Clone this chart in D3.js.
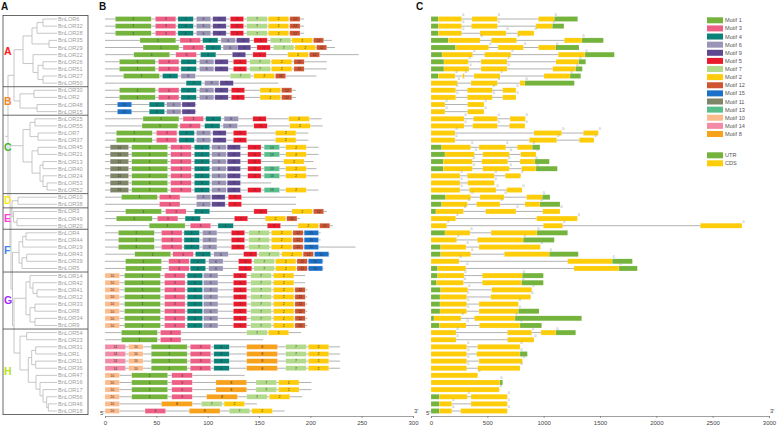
<!DOCTYPE html>
<html><head><meta charset="utf-8">
<script src="https://cdn.jsdelivr.net/npm/d3@7"></script>
<style>
body{margin:0;background:#fff}
svg{display:block}
text{font-family:"Liberation Sans",Arial,sans-serif}
</style>
</head><body>
<svg id="chart" width="779" height="429"></svg>
<script>
// ---------------- DATA ----------------
const geneNames = ["BnLOR6","BnLOR32","BnLOR28","BnLOR35","BnLOR29","BnLOR22","BnLOR26","BnLOR51","BnLOR27","BnLOR50",
"BnLOR30","BnLOR2","BnLOR48","BnLOR15",
"BnLOR25","BnLOR55","BnLOR7","BnLOR37","BnLOR45","BnLOR21","BnLOR13","BnLOR40","BnLOR24","BnLOR53","BnLOR52",
"BnLOR10","BnLOR38","BnLOR3","BnLOR49","BnLOR20",
"BnLOR4","BnLOR44","BnLOR19","BnLOR43","BnLOR39","BnLOR5",
"BnLOR14","BnLOR42","BnLOR41","BnLOR12","BnLOR33","BnLOR8","BnLOR34","BnLOR9",
"BnLOR54","BnLOR23","BnLOR31","BnLOR1","BnLOR11","BnLOR36","BnLOR47","BnLOR16","BnLOR17","BnLOR56","BnLOR46","BnLOR18"];

const groupNames  = ["A","B","C","D","E","F","G","H"];
const groupSizes  = [10,4,11,2,3,6,8,12];
const groupColors = ["#ff1a1a","#f0841e","#3fb52f","#ffe81a","#ff3ad6","#3b86ea","#a02cff","#b5e21c"];
const groupLabelRow = [4.5,11.5,18,25.5,28,32.5,39.5,49.5];

// phylogeny (Newick, branch lengths)
const newick = "((((((BnLOR6:14,BnLOR32:14):6,BnLOR28:20):5,(BnLOR35:8,BnLOR29:8):17):9,(BnLOR22:24,((BnLOR26:14,BnLOR51:14):5,(BnLOR27:14,BnLOR50:14):5):5):10):9,((BnLOR30:23,BnLOR2:23):14,(BnLOR48:20,BnLOR15:20):17):6):6,((((BnLOR25:22,BnLOR55:22):5,(BnLOR7:19,BnLOR37:19):8):7,((BnLOR45:19,BnLOR21:19):6,((BnLOR13:14,BnLOR40:14):3,(BnLOR24:14,(BnLOR53:10,BnLOR52:10):4):3):8):9):13,(((BnLOR10:39,BnLOR38:39):6,(BnLOR3:43.5,(BnLOR49:40,BnLOR20:40):3.5):1.5):1,((((BnLOR4:31,BnLOR44:31):3.3,BnLOR19:34.3):3.7,((BnLOR43:30.3,BnLOR39:30.3):4.7,BnLOR5:35):3):6.5,(((BnLOR14:27,(BnLOR42:24,(BnLOR41:20,BnLOR12:20):4):3):4,((BnLOR33:22,BnLOR8:22):5,(BnLOR34:22,BnLOR9:22):5):4):12,((BnLOR54:30.3,BnLOR23:30.3):6.7,(((BnLOR31:21.3,BnLOR1:21.3):4,(BnLOR11:21.3,BnLOR36:21.3):4):3.4,(BnLOR47:21,(BnLOR16:17,(BnLOR17:14,(BnLOR56:10.3,(BnLOR46:8.7,BnLOR18:8.7):1.6):3.7):3):4):7.7):8.3):6):1.5):1.5):1):2);";

// motifs
const legendMotifs = [1,3,4,6,9,5,7,2,12,15,11,13,10,14,8];
const motifColors = {1:"#74b33c",2:"#fecc0a",3:"#ee5f86",4:"#0b8277",5:"#ea1a2d",6:"#9a94b5",7:"#b2da8b",8:"#f8a11b",
  9:"#5e488f",10:"#fdbb8b",11:"#7f8567",12:"#cf5532",13:"#58be8b",14:"#f38ba6",15:"#1b70c8"};
const motifWidth = {1:35,2:20,3:20,4:15,5:13,6:14,7:20,8:30,9:13,10:14,11:18,12:10,13:15,14:20,15:14};

const proteinLength = [194,194,194,221,224,247,216,216,206,169,
 186,186,89,89,211,212,198,198,208,208,
 203,206,208,162,208,186,186,216,190,222,
 210,210,244,219,213,213,195,195,197,197,
 197,197,197,197,191,154,229,229,229,229,
 136,201,201,192,148,175];

const mA  = [[1,10],[3,49],[4,71],[6,89],[9,105],[5,122],[7,138],[2,159],[12,180]];
const mA2 = [[1,14],[3,52],[4,74],[6,92],[9,107],[5,125],[7,141],[2,162],[12,184]];
const mB  = [[1,14],[3,52],[4,74],[6,92],[9,107],[5,123],[2,151],[12,172]];
const mB2 = [[15,12],[4,43],[6,60],[9,75]];
const mC7 = [[1,11],[3,50],[4,72],[6,89],[9,105],[5,125],[2,166]];
const mC  = [[11,5],[1,26],[3,64],[4,87],[6,104],[9,119],[5,139],[13,155],[2,176]];
const mF  = [[1,13],[3,55],[4,77],[6,95],[5,123],[7,140],[2,162],[12,183],[15,194]];
const mF2 = [[1,20],[3,62],[4,83],[6,101],[5,130],[7,145],[2,166],[12,187],[15,198]];
const mG  = [[10,0],[1,19],[3,58],[4,80],[6,96],[5,125],[7,142],[2,164]];
const mG2 = [[10,0],[1,19],[3,58],[4,80],[6,96],[5,125],[7,142],[2,164],[12,185]];
const mH  = [[14,0],[10,23],[1,45],[3,83],[4,106],[8,138],[7,176],[2,198]];
const mH2 = [[10,0],[1,26],[3,65],[8,108],[7,147],[2,169]];

const motifLayout = [
 mA, mA, mA,
 [[1,34],[3,73],[4,95],[6,113],[9,128],[5,145],[7,161],[2,182],[12,203]],
 [[1,37],[3,76],[4,98],[6,115],[9,129],[5,148],[7,164],[2,185],[12,206]],
 [[1,28],[3,69],[4,93],[9,124],[5,144],[2,178],[12,199]],
 mA2, mA2,
 [[1,18],[4,56],[6,74],[7,122],[2,145],[12,166]],
 [[4,79],[6,97],[9,112]],
 mB, mB, mB2, mB2,
 [[1,37],[3,76],[4,98],[6,116],[5,144],[2,179]],
 [[1,36],[3,73],[4,97],[6,115],[5,145],[2,180]],
 mC7, mC7,
 mC, mC,
 [[11,5],[1,26],[3,64],[4,87],[6,104],[9,119],[5,139],[2,174]],
 mC, mC,
 [[11,5],[1,26],[3,64],[4,87],[6,104],[9,119]],
 mC,
 [[1,16],[3,53],[6,89],[9,104],[5,120]],
 [[3,53],[6,89],[9,104],[5,120]],
 [[1,20],[3,59],[4,87],[5,145],[2,182],[12,203]],
 [[1,11],[3,51],[4,78],[5,126],[2,156],[12,177]],
 [[1,43],[3,83],[4,110],[5,158],[2,188],[12,209]],
 mF, mF, mF,
 [[1,29],[3,66],[4,88],[6,106],[5,135],[7,150],[2,172],[12,193],[15,204]],
 mF2, mF2,
 mG, mG, mG2, mG2, mG2, mG2, mG2, mG2,
 [[1,16],[3,54],[7,138],[2,159]],
 [[1,16],[3,54]],
 mH, mH, mH, mH,
 [[10,0],[1,26],[3,65]],
 mH2, mH2,
 [[10,0],[1,26],[3,65],[8,99],[7,138],[2,160]],
 [[10,0],[8,55],[7,94],[2,116]],
 [[10,0],[3,39],[8,82],[7,121],[2,143]]
];

// gene structures: [type, start, end] (U = UTR, C = CDS), bp
const geneStructure = [
 [["U",0,65],["C",65,272],["C",364,589],["C",953,1095],["U",1095,1302]],
 [["U",0,65],["C",65,272],["C",358,589],["C",932,1077],["U",1077,1180]],
 [["U",0,65],["C",65,272],["C",435,666],["C",769,914]],
 [["U",0,154],["C",154,435],["C",535,760],["C",1183,1340],["U",1340,1530]],
 [["U",0,219],["C",219,512],["C",595,820],["C",953,1107],["U",1107,1314]],
 [["U",0,98],["C",98,370],["C",476,710],["C",1130,1367],["U",1367,1627]],
 [["U",0,115],["C",115,331],["C",444,675],["C",1109,1311],["U",1311,1373]],
 [["U",0,115],["C",115,337],["C",444,675],["C",1080,1284],["U",1284,1343]],
 [["U",0,65],["C",65,213],["C",281,296],["C",382,612],["C",1003,1234],["U",1234,1329]],
 [["C",0,234],["C",355,589],["C",790,834],["U",834,1272]],
 [["C",0,219],["C",322,544],["C",636,754]],
 [["C",0,219],["C",322,544],["C",636,754]],
 [["C",0,124],["C",325,470]],
 [["C",0,124],["C",325,470]],
 [["C",0,293],["C",376,589],["C",701,837]],
 [["C",0,293],["C",370,589],["C",695,834]],
 [["C",0,213],["C",914,1160],["C",1352,1485]],
 [["C",0,213],["C",873,1116],["C",1316,1447]],
 [["U",0,95],["C",95,352],["C",426,663],["C",766,899],["U",899,967]],
 [["U",0,124],["C",124,385],["C",459,695],["C",796,932]],
 [["U",0,109],["C",109,367],["C",450,681],["C",790,923],["U",923,1050]],
 [["U",0,109],["C",109,367],["C",459,695],["C",805,932],["U",932,1121]],
 [["C",0,257],["C",322,562],["C",659,796]],
 [["C",0,257],["C",325,562]],
 [["C",0,257],["C",340,577],["C",672,808]],
 [["U",0,130],["C",130,352],["C",435,648],["C",849,988],["U",988,1056]],
 [["U",0,95],["C",95,322],["C",405,612],["C",834,967],["U",967,1145]],
 [["U",0,44],["C",44,287],["C",485,754],["C",991,1145]],
 [["C",0,219],["C",938,1299]],
 [["C",0,139],["C",997,1169],["C",2390,2760]],
 [["U",0,124],["C",124,346],["C",533,941],["U",941,1213]],
 [["C",0,228],["C",411,819],["U",819,1094]],
 [["U",0,86],["C",86,311],["C",426,970]],
 [["U",0,86],["C",86,352],["C",651,1050],["U",1050,1307]],
 [["C",0,249],["C",1213,1609],["U",1609,1787]],
 [["U",0,59],["C",59,308],["C",1269,1669],["U",1669,1831]],
 [["U",0,59],["C",59,293],["C",455,810],["U",810,997]],
 [["U",0,50],["C",50,287],["C",455,805],["U",805,997]],
 [["U",0,86],["C",86,326],["C",538,894]],
 [["U",0,80],["C",80,317],["C",530,885]],
 [["U",0,80],["C",80,317],["C",426,775]],
 [["U",0,80],["C",80,317],["C",426,775],["U",775,959]],
 [["U",0,27],["C",27,266],["C",385,746],["U",746,1337]],
 [["U",0,74],["C",74,311],["C",429,790],["U",790,982]],
 [["C",0,222],["C",678,893],["C",976,1109],["U",1109,1284]],
 [["C",0,222],["C",678,914]],
 [["C",0,317],["C",414,790]],
 [["C",0,317],["C",405,790],["U",790,855]],
 [["C",0,317],["C",426,811]],
 [["C",0,317],["C",414,790]],
 [["C",0,414]],
 [["C",0,612],["U",612,636]],
 [["C",0,606]],
 [["U",0,74],["C",74,322],["C",355,677]],
 [["U",0,74],["C",74,184],["C",355,677]],
 [["U",0,74],["C",74,184],["C",264,677]]
];

const structColors = {U:"#74b33c", C:"#fecd0a"};
const axisBTicks = [0,50,100,150,200,250,300];
const axisCTicks = [0,500,1000,1500,2000,2500,3000];

// ---------------- DRAW ----------------
const svg = d3.select("#chart");
const n = geneNames.length;
const yRow = d3.scaleLinear().domain([0, n-1]).range([19, 411]);
const rowOf = {}; geneNames.forEach((g,i)=>rowOf[g]=i);

// titles
[["A",1],["B",99],["C",416]].forEach(([t,x])=>{
  svg.append("text").attr("x",x).attr("y",10).text(t)
    .attr("font-size",10).attr("font-weight","bold").attr("fill","#111");
});

// --- Panel A: tree ---
function parseNewick(s){
  let i=0;
  function node(){
    const nd={children:[]};
    if(s[i]==="("){
      i++;
      nd.children.push(node());
      while(s[i]===","){ i++; nd.children.push(node()); }
      i++; // )
    }
    let name=""; while(i<s.length && !":,();".includes(s[i])) name+=s[i++];
    nd.name=name;
    if(s[i]===":"){ i++; let v=""; while(i<s.length && !",();".includes(s[i])) v+=s[i++]; nd.len=+v; }
    else nd.len=0;
    return nd;
  }
  return node();
}
const root = d3.hierarchy(parseNewick(newick), d=>d.children.length?d.children:null);
root.each(d=>{ d.dist = (d.parent?d.parent.dist:0) + (d.parent?d.data.len:0); });
const xTree = d3.scaleLinear().domain([0,49]).range([8,57]);
root.eachAfter(d=>{
  if(!d.children){ d.yy = yRow(rowOf[d.data.name]); d.xx = xTree(49); }
  else { d.yy = (d.children[0].yy + d.children[d.children.length-1].yy)/2; d.xx = xTree(d.dist); }
});
const gTree = svg.append("g").attr("stroke","#b9b9b9").attr("stroke-width",0.8).attr("fill","none");
root.each(d=>{
  if(d.children){
    gTree.append("line").attr("x1",d.xx).attr("x2",d.xx)
      .attr("y1",d.children[0].yy).attr("y2",d.children[d.children.length-1].yy);
    d.children.forEach(c=>{
      gTree.append("line").attr("x1",d.xx).attr("x2",c.xx).attr("y1",c.yy).attr("y2",c.yy);
    });
  }
});
if(root.children){ gTree.append("line").attr("x1",root.xx-3).attr("x2",root.xx).attr("y1",root.yy).attr("y2",root.yy); }

// leaf labels
svg.append("g").selectAll("text").data(geneNames).join("text")
  .attr("x",58).attr("y",(d,i)=>yRow(i)+2).text(d=>d)
  .attr("font-size",5.6).attr("fill","#a0a0a0");

// group boxes
const boxTop = yRow(0)-3.6, boxBot = yRow(n-1)+3.6;
svg.append("rect").attr("x",3).attr("y",boxTop).attr("width",85).attr("height",boxBot-boxTop)
  .attr("fill","none").attr("stroke","#444").attr("stroke-width",0.8);
let acc=0;
groupSizes.forEach((s,gi)=>{
  if(gi>0){
    const yb=(yRow(acc-1)+yRow(acc))/2;
    svg.append("line").attr("x1",3).attr("x2",88).attr("y1",yb).attr("y2",yb)
      .attr("stroke","#444").attr("stroke-width",0.8);
  }
  acc+=s;
});
svg.append("g").selectAll("text").data(groupNames).join("text")
  .attr("x",4).attr("y",(d,i)=>yRow(groupLabelRow[i])+3.6).text(d=>d)
  .attr("font-size",10.5).attr("font-weight","bold").attr("fill",(d,i)=>groupColors[i]);

// --- Panel B: motifs ---
const xB = d3.scaleLinear().domain([0,300]).range([105,413]);
const gB = svg.append("g");
proteinLength.forEach((L,i)=>{
  gB.append("line").attr("x1",xB(0)).attr("x2",xB(L)).attr("y1",yRow(i)).attr("y2",yRow(i))
    .attr("stroke","#a9a9a9").attr("stroke-width",0.9);
});
motifLayout.forEach((row,i)=>{
  row.forEach(([m,s])=>{
    const x0=xB(s), x1=xB(s+motifWidth[m]);
    gB.append("rect").attr("x",x0).attr("y",yRow(i)-2.5).attr("width",x1-x0).attr("height",5)
      .attr("fill",motifColors[m]).attr("stroke","#ffffff").attr("stroke-opacity",0.55).attr("stroke-width",0.5);
    gB.append("text").attr("x",(x0+x1)/2).attr("y",yRow(i)+1.3).attr("text-anchor","middle")
      .attr("font-size",3.4).attr("fill","#333").text(m);
  });
});
const axB = svg.append("g").attr("transform","translate(0,416)")
  .call(d3.axisBottom(xB).tickValues(axisBTicks).tickSize(2).tickFormat(d3.format("d")));
axB.select(".domain").attr("stroke","#777").attr("stroke-width",0.7);
axB.selectAll(".tick line").attr("stroke","#777").attr("stroke-width",0.7);
axB.selectAll("text").attr("font-size",6).attr("fill","#444").attr("dy","0.6em")
  .attr("font-family","Liberation Sans, Arial, sans-serif");
svg.append("text").attr("x",xB(0)-5).attr("y",415).text("5'").attr("font-size",6).attr("fill","#444");
svg.append("text").attr("x",xB(300)+1).attr("y",413).text("3'").attr("font-size",6).attr("fill","#444");

// --- Panel C: gene structures ---
const xC = d3.scaleLinear().domain([0,3000]).range([431,769]);
const gC = svg.append("g");
geneStructure.forEach((segs,i)=>{
  const end = d3.max(segs,s=>s[2]);
  gC.append("line").attr("x1",xC(0)).attr("x2",xC(end)).attr("y1",yRow(i)).attr("y2",yRow(i))
    .attr("stroke","#a9a9a9").attr("stroke-width",0.9);
  segs.forEach(([t,s,e],k)=>{
    gC.append("rect").attr("x",xC(s)).attr("y",yRow(i)-2.5).attr("width",xC(e)-xC(s)).attr("height",5)
      .attr("fill",structColors[t]).attr("stroke","#ffffff").attr("stroke-opacity",0.4).attr("stroke-width",0.4);
  });
  segs.forEach(([t,s,e],k)=>{
    if(t==="C"){
      gC.append("text").attr("x",xC(e)+0.5).attr("y",yRow(i)-3).attr("font-size",3.6)
        .attr("fill","#999").text("0");
    }
  });
});
const axC = svg.append("g").attr("transform","translate(0,416)")
  .call(d3.axisBottom(xC).tickValues(axisCTicks).tickSize(2).tickFormat(d3.format("d")));
axC.select(".domain").attr("stroke","#777").attr("stroke-width",0.7);
axC.selectAll(".tick line").attr("stroke","#777").attr("stroke-width",0.7);
axC.selectAll("text").attr("font-size",6).attr("fill","#444").attr("dy","0.6em")
  .attr("font-family","Liberation Sans, Arial, sans-serif");
svg.append("text").attr("x",xC(0)-5).attr("y",415).text("5'").attr("font-size",6).attr("fill","#444");
svg.append("text").attr("x",xC(3000)+1).attr("y",413).text("3'").attr("font-size",6).attr("fill","#444");

// --- Legend ---
const gL = svg.append("g");
legendMotifs.forEach((m,k)=>{
  const y = 20.3 + k*8.12;
  gL.append("rect").attr("x",707).attr("y",y-3).attr("width",16).attr("height",6).attr("fill",motifColors[m]);
  gL.append("text").attr("x",725).attr("y",y+2).text("Motif "+m).attr("font-size",5.6).attr("fill","#555");
});
[["UTR","U",155.3],["CDS","C",163.3]].forEach(([lab,t,y])=>{
  gL.append("rect").attr("x",707).attr("y",y-3).attr("width",16).attr("height",6).attr("fill",structColors[t]);
  gL.append("text").attr("x",725).attr("y",y+2).text(lab).attr("font-size",5.6).attr("fill","#555");
});
</script>
</body></html>
